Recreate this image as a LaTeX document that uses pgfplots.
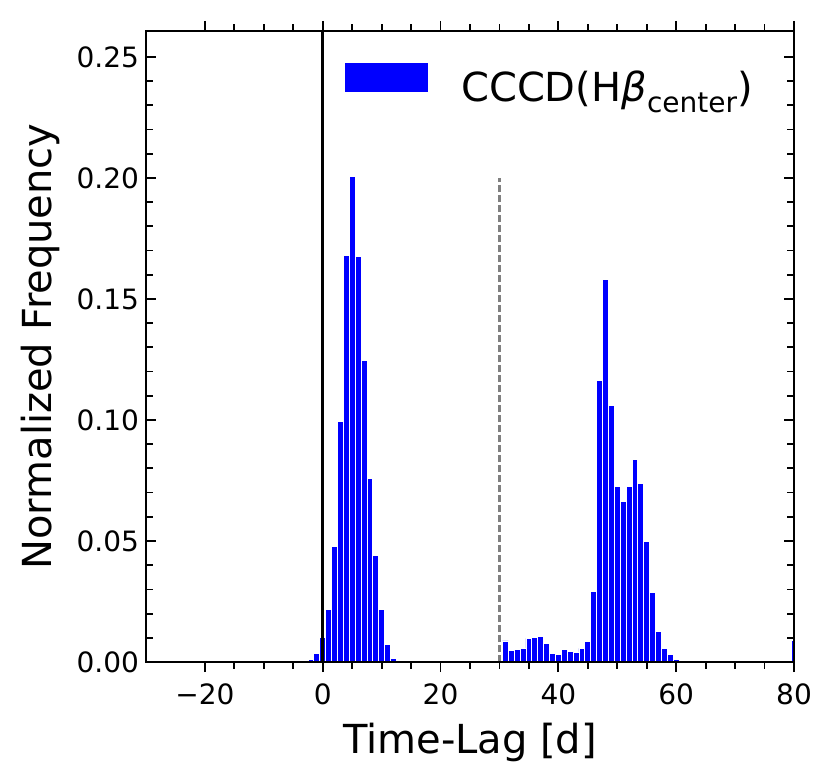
\documentclass[border=0pt]{standalone}
\usepackage{fontspec}
\setmainfont{DejaVu Sans}
\usepackage{pgfplots}
\pgfplotsset{compat=1.18}
\begin{document}
\begin{tikzpicture}
\begin{axis}[
  scale only axis,
  width=324pt, height=315.5pt,
  xmin=-30, xmax=80, ymin=0, ymax=0.2607,
  axis on top,
  axis line style={line width=1pt},
  xtick={-20,0,20,40,60,80},
  xticklabels={−20,0,20,40,60,80},
  ytick={0,0.05,0.10,0.15,0.20,0.25},
  yticklabels={0.00,0.05,0.10,0.15,0.20,0.25},
  minor x tick num=3,
  minor y tick num=4,
  xtick align=outside,
  ytick align=inside,
  xtick pos=both, ytick pos=both,
  major tick length=5pt,
  minor tick length=3.3pt,
  every tick/.style={black, line width=0.9pt},
  tick label style={font=\fontsize{14}{16}\selectfont},
  xticklabel style={yshift=-2.3pt},
  label style={font=\fontsize{20}{24}\selectfont},
  xlabel={Time-Lag [d]},
  ylabel={Normalized Frequency},
  xlabel style={at={(axis description cs:0.5,-0.1442)}, anchor=base},
  ylabel style={at={(axis description cs:-0.1455,0.5)}, anchor=base, rotate=0},
  legend style={draw=none, fill=none, inner sep=0pt, column sep=16.5pt,
    at={(axis description cs:0.3071,0.9162)}, anchor=west,
    font=\fontsize{20}{24}\selectfont,
    nodes={inner sep=0pt}},
]
\addplot[ybar, bar width=1, bar shift=0, fill=blue, draw=white, line width=0.4pt,
  legend image code/.code={\fill[blue] (0pt,-1.5pt) rectangle (41pt,12.5pt);}]
  coordinates {
  (-3,0.0003) (-2,0.0010) (-1,0.0037) (0,0.0101) (1,0.0218) (2,0.0478)
  (3,0.0994) (4,0.1679) (5,0.2006) (6,0.1675) (7,0.1247) (8,0.0759)
  (9,0.0440) (10,0.0216) (11,0.0072) (12,0.0014) (13,0.0003)
  (31,0.0087) (32,0.0048) (33,0.0051) (34,0.0056) (35,0.0098) (36,0.0101)
  (37,0.0105) (38,0.0076) (39,0.0037) (40,0.0032) (41,0.0052) (42,0.0045)
  (43,0.0041) (44,0.0056) (45,0.0085) (46,0.0293) (47,0.1163) (48,0.1580)
  (49,0.1059) (50,0.0724) (51,0.0665) (52,0.0726) (53,0.0836) (54,0.0736)
  (55,0.0499) (56,0.0289) (57,0.0127) (58,0.0056) (59,0.0031) (60,0.0012)
  (61,0.0007) (62,0.0003) (79,0.0007) (80,0.0089)
  };
\addlegendentry{CCCD(H{\itshape β}\raisebox{-0.27em}{\fontsize{14}{14}\selectfont center})}
\addplot[forget plot, black, line width=1.3pt] coordinates {(0,0) (0,0.2607)};
\addplot[forget plot, gray, line width=1.2pt, dash pattern=on 3.5pt off 1.5pt] coordinates {(30,0) (30,0.2)};
\end{axis}
\pgfresetboundingbox
\path ([shift={(-73pt,-60.5pt)}]current axis.south west) rectangle ([shift={(18.5pt,15.5pt)}]current axis.north east);
\end{tikzpicture}
\end{document}
